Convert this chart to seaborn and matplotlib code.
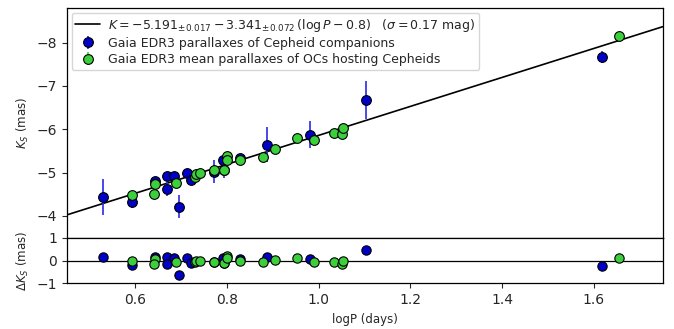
import numpy as np
import pandas as pd
import matplotlib
matplotlib.use("Agg")
import matplotlib.pyplot as plt
import seaborn as sns

sns.set_style("ticks")
plt.rcParams['font.family'] = ['DejaVu Sans']
plt.rcParams['mathtext.fontset'] = 'dejavusans'

# Fit coefficients (from legend)
zp, slope, pivot = -5.191, -3.341, 0.8

# Cepheid companions (blue)
comp_logp = [0.530, 0.593, 0.643, 0.669, 0.669, 0.683, 0.694, 0.712, 0.721,
             0.771, 0.792, 0.794, 0.828, 0.888, 0.981, 1.102, 1.618]
comp_k = [-4.43, -4.32, -4.81, -4.91, -4.62, -4.93, -4.21, -4.99, -4.83,
          -5.02, -5.29, -5.05, -5.34, -5.64, -5.87, -6.67, -7.67]
comp_err = [0.42, 0.14, 0.05, 0.05, 0.17, 0.05, 0.27, 0.05, 0.05,
            0.26, 0.06, 0.17, 0.05, 0.40, 0.31, 0.44, 0.14]

# Open clusters hosting Cepheids (green)
oc_logp = [0.593, 0.643, 0.640, 0.688, 0.730, 0.733, 0.741, 0.771, 0.794,
           0.800, 0.800, 0.828, 0.879, 0.904, 0.952, 0.990, 1.033, 1.050,
           1.053, 1.654]
oc_k = [-4.485, -4.746, -4.515, -4.75, -4.89, -4.96, -4.99, -5.05, -5.05,
        -5.39, -5.28, -5.28, -5.37, -5.54, -5.79, -5.76, -5.92, -5.88,
        -6.02, -8.16]
oc_err = [0.04] * len(oc_logp)

xlim = (0.45, 1.75)


def fit(lp):
    return zp + slope * (np.asarray(lp) - pivot)


comp = pd.DataFrame({"logP": comp_logp, "K": comp_k, "err": comp_err})
oc = pd.DataFrame({"logP": oc_logp, "K": oc_k, "err": oc_err})
comp["dK"] = fit(comp["logP"]) - comp["K"]
oc["dK"] = fit(oc["logP"]) - oc["K"]

blue = "#0000c8"
eblue = "#2a2ae6"
green = "#3ccf3c"

fig = plt.figure(figsize=(6.74, 3.29), dpi=100)
ax1 = fig.add_axes([0.099, 0.278, 0.884, 0.698])
ax2 = fig.add_axes([0.099, 0.1383, 0.884, 0.1398], sharex=ax1)

for ax in (ax1, ax2):
    for s in ax.spines.values():
        s.set_linewidth(0.9)
        s.set_color("black")

# fit line
xl = np.array(xlim)
line_df = pd.DataFrame({"logP": xl, "K": fit(xl)})
sns.lineplot(data=line_df, x="logP", y="K", ax=ax1, color="black", lw=1.2,
             label=r'$K = -5.191_{\pm0.017} - 3.341_{\pm0.072}\,(\log P - 0.8)$   $(\sigma = 0.17$ mag$)$',
             legend=False)
lh = ax1.lines[-1]

e1 = ax1.errorbar(comp["logP"], comp["K"], yerr=comp["err"], fmt="o", ms=7,
                  mfc=blue, mec="black", mew=0.8, ecolor=eblue, elinewidth=1.2,
                  capsize=0, zorder=3,
                  label="Gaia EDR3 parallaxes of Cepheid companions")
e2 = ax1.errorbar(oc["logP"], oc["K"], yerr=oc["err"], fmt="o", ms=7,
                  mfc=green, mec="black", mew=0.8, ecolor=green, elinewidth=1.2,
                  capsize=0, zorder=4,
                  label="Gaia EDR3 mean parallaxes of OCs hosting Cepheids")

ax1.set_xlim(*xlim)
ax1.set_ylim(-3.5, -8.8)
ax1.set_yticks([-8, -7, -6, -5, -4])
ax1.set_ylabel(r'$K_S$ (mas)', fontsize=8.5)
ax1.tick_params(axis='x', labelbottom=False)
ax1.tick_params(labelsize=10)
leg = ax1.legend(handles=[lh, e1, e2], loc="upper left", fontsize=9,
                 frameon=True, fancybox=True, framealpha=0.8,
                 borderpad=0.3, labelspacing=0.25, handletextpad=0.6,
                 borderaxespad=0.4)
leg.get_frame().set_edgecolor("#cccccc")

# residual panel
ax2.axhline(0, color="black", lw=0.9, zorder=1)
sns.scatterplot(data=comp, x="logP", y="dK", ax=ax2, color=blue, s=45,
                edgecolor="black", linewidth=0.8, zorder=3)
sns.scatterplot(data=oc, x="logP", y="dK", ax=ax2, color=green, s=45,
                edgecolor="black", linewidth=0.8, zorder=4)
ax2.set_ylim(-1, 1)
ax2.set_yticks([-1, 0, 1])
ax2.set_xlim(*xlim)
ax2.set_xticks([0.6, 0.8, 1.0, 1.2, 1.4, 1.6])
ax2.tick_params(labelsize=10)
ax2.set_xlabel("logP (days)", fontsize=8.5)
ax2.set_ylabel(r'$\Delta K_S$ (mas)', fontsize=8.5)

fig.align_ylabels([ax1, ax2])
fig.savefig("out.png", dpi=100)
